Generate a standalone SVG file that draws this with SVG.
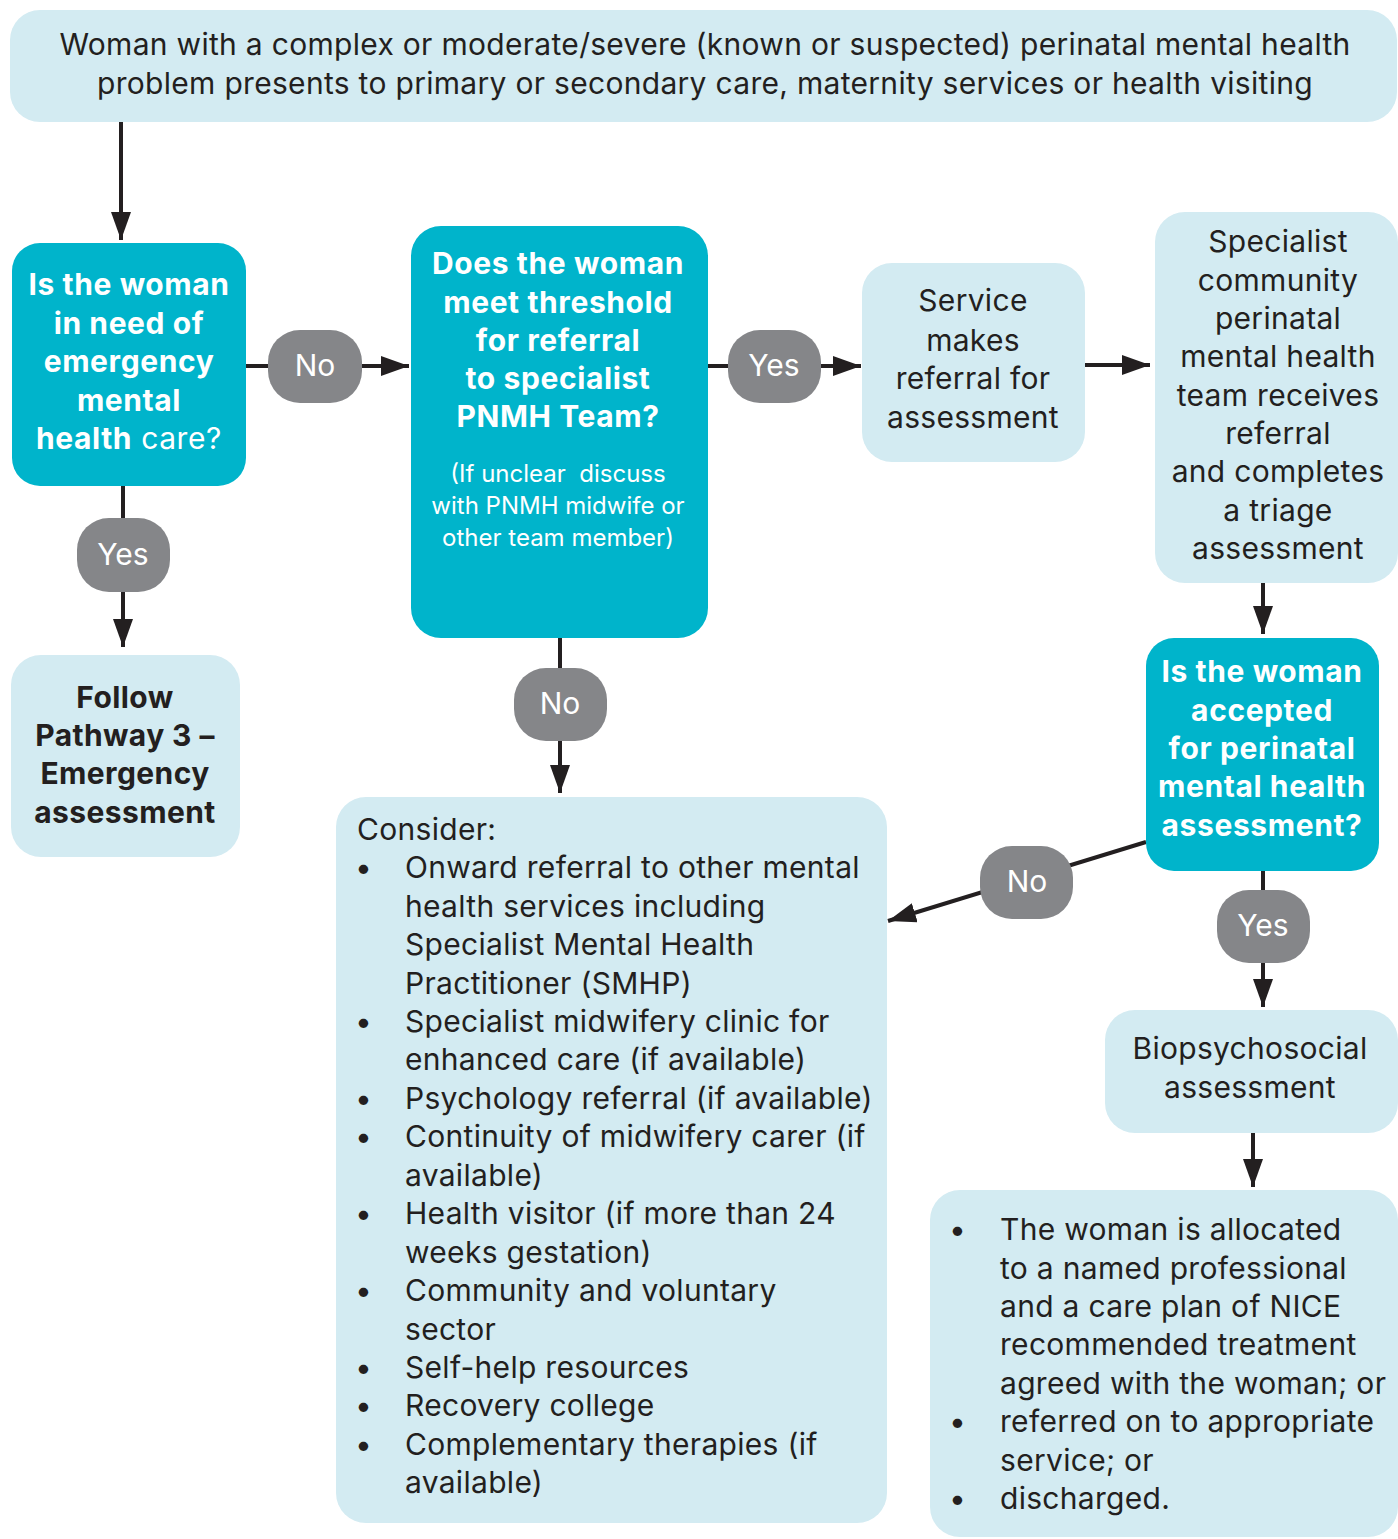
<svg xmlns="http://www.w3.org/2000/svg" width="1398" height="1539" viewBox="0 0 1398 1539">
  <style>
    .box { fill: #d3ebf2; }
    .q { fill: #00b4cb; }
    .pill { fill: #858689; }
    .t { font-family: Inter, "Liberation Sans", Arial, sans-serif; font-size: 30px; letter-spacing: 0.3px; fill: #231f20; }
    .c { text-anchor: middle; }
    .qt { font-family: Inter, "Liberation Sans", Arial, sans-serif; font-size: 30px; font-weight: 700; letter-spacing: 0.6px; fill: #ffffff; text-anchor: middle; }
    .bt { font-family: Inter, "Liberation Sans", Arial, sans-serif; font-size: 30px; font-weight: 700; letter-spacing: 0.4px; fill: #231f20; text-anchor: middle; }
    .sub { font-family: Inter, "Liberation Sans", Arial, sans-serif; font-size: 24px; fill: #ffffff; text-anchor: middle; }
    .pt { font-family: Inter, "Liberation Sans", Arial, sans-serif; font-size: 30px; fill: #ffffff; text-anchor: middle; }
    .edge { stroke: #231f20; stroke-width: 4; fill: none; marker-end: url(#head); }
  </style>
  <defs>
    <marker id="head" markerUnits="userSpaceOnUse" markerWidth="28" markerHeight="20" refX="28" refY="10" orient="auto" viewBox="0 0 28 20">
      <path d="M0,0 L28,10 L0,20 Z" fill="#231f20"/>
    </marker>
  </defs>

  <!-- connectors (drawn first so the Yes/No pills sit on top) -->
  <g id="connectors">
    <line class="edge" x1="121" y1="122" x2="121" y2="240"/>
    <line class="edge" x1="246" y1="366" x2="409" y2="366"/>
    <line class="edge" x1="123" y1="486" x2="123" y2="647"/>
    <line class="edge" x1="708" y1="366" x2="861" y2="366"/>
    <line class="edge" x1="1085" y1="365" x2="1150" y2="365"/>
    <line class="edge" x1="1263" y1="583" x2="1263" y2="634"/>
    <line class="edge" x1="560" y1="638" x2="560" y2="793"/>
    <line class="edge" x1="1146" y1="842" x2="888" y2="921"/>
    <line class="edge" x1="1263" y1="871" x2="1263" y2="1007"/>
    <line class="edge" x1="1253" y1="1133" x2="1253" y2="1187"/>
  </g>

  <!-- Yes / No labels on the connectors -->
  <g id="edge-labels">
    <g id="label-a-no">
      <rect class="pill" x="268" y="330" width="94" height="73" rx="32"/>
      <text class="pt" x="315" y="376">No</text>
    </g>
    <g id="label-a-yes">
      <rect class="pill" x="77" y="518" width="93" height="74" rx="32"/>
      <text class="pt" x="123" y="565">Yes</text>
    </g>
    <g id="label-b-yes">
      <rect class="pill" x="728" y="330" width="93" height="73" rx="32"/>
      <text class="pt" x="774" y="376">Yes</text>
    </g>
    <g id="label-b-no">
      <rect class="pill" x="514" y="668" width="93" height="73" rx="32"/>
      <text class="pt" x="560" y="714">No</text>
    </g>
    <g id="label-c-no">
      <rect class="pill" x="980" y="846" width="93" height="73" rx="32"/>
      <text class="pt" x="1027" y="892">No</text>
    </g>
    <g id="label-c-yes">
      <rect class="pill" x="1217" y="890" width="93" height="73" rx="32"/>
      <text class="pt" x="1263" y="936">Yes</text>
    </g>
  </g>

  <g id="node-start">
    <rect class="box" x="10" y="10" width="1387" height="112" rx="30"/>
    <text class="t c" x="705" y="55">Woman with a complex or moderate/severe (known or suspected) perinatal mental health</text>
    <text class="t c" x="705" y="94">problem presents to primary or secondary care, maternity services or health visiting</text>
  </g>

  <g id="node-emergency-question">
    <rect class="q" x="12" y="243" width="234" height="243" rx="28"/>
    <text class="qt" x="129" y="295">Is the woman</text>
    <text class="qt" x="129" y="334">in need of</text>
    <text class="qt" x="129" y="372">emergency</text>
    <text class="qt" x="129" y="411">mental</text>
    <text class="qt" x="129" y="449">health<tspan font-weight="400"> care?</tspan></text>
  </g>

  <g id="node-pathway3">
    <rect class="box" x="11" y="655" width="229" height="202" rx="30"/>
    <text class="bt" x="125" y="708">Follow</text>
    <text class="bt" x="125" y="746">Pathway 3 –</text>
    <text class="bt" x="125" y="784">Emergency</text>
    <text class="bt" x="125" y="823">assessment</text>
  </g>

  <g id="node-threshold-question">
    <rect class="q" x="411" y="226" width="297" height="412" rx="30"/>
    <text class="qt" x="558" y="274">Does the woman</text>
    <text class="qt" x="558" y="313">meet threshold</text>
    <text class="qt" x="558" y="351">for referral</text>
    <text class="qt" x="558" y="389">to specialist</text>
    <text class="qt" x="558" y="427">PNMH Team?</text>
    <text class="sub" x="558" y="482" xml:space="preserve">(If unclear  discuss</text>
    <text class="sub" x="558" y="514">with PNMH midwife or</text>
    <text class="sub" x="558" y="546">other team member)</text>
  </g>

  <g id="node-service-referral">
    <rect class="box" x="862" y="263" width="223" height="199" rx="30"/>
    <text class="t c" x="973" y="311">Service</text>
    <text class="t c" x="973" y="351">makes</text>
    <text class="t c" x="973" y="389">referral for</text>
    <text class="t c" x="973" y="428">assessment</text>
  </g>

  <g id="node-specialist-team">
    <rect class="box" x="1155" y="212" width="243" height="371" rx="30"/>
    <text class="t c" x="1278" y="252">Specialist</text>
    <text class="t c" x="1278" y="291">community</text>
    <text class="t c" x="1278" y="329">perinatal</text>
    <text class="t c" x="1278" y="367">mental health</text>
    <text class="t c" x="1278" y="406">team receives</text>
    <text class="t c" x="1278" y="444">referral</text>
    <text class="t c" x="1278" y="482">and completes</text>
    <text class="t c" x="1278" y="521">a triage</text>
    <text class="t c" x="1278" y="559">assessment</text>
  </g>

  <g id="node-accepted-question">
    <rect class="q" x="1146" y="638" width="233" height="233" rx="28"/>
    <text class="qt" x="1262" y="682">Is the woman</text>
    <text class="qt" x="1262" y="721">accepted</text>
    <text class="qt" x="1262" y="759">for perinatal</text>
    <text class="qt" x="1262" y="797">mental health</text>
    <text class="qt" x="1262" y="836">assessment?</text>
  </g>

  <g id="node-consider">
    <rect class="box" x="336" y="797" width="551" height="726" rx="30"/>
    <text class="t" x="357" y="840">Consider:</text>
    <g class="t">
      <text x="355" y="878">•</text>
      <text x="355" y="1032">•</text>
      <text x="355" y="1109">•</text>
      <text x="355" y="1147">•</text>
      <text x="355" y="1224">•</text>
      <text x="355" y="1301">•</text>
      <text x="355" y="1378">•</text>
      <text x="355" y="1416">•</text>
      <text x="355" y="1455">•</text>
    </g>
    <text class="t" x="405" y="878">Onward referral to other mental</text>
    <text class="t" x="405" y="917">health services including</text>
    <text class="t" x="405" y="955">Specialist Mental Health</text>
    <text class="t" x="405" y="994">Practitioner (SMHP)</text>
    <text class="t" x="405" y="1032">Specialist midwifery clinic for</text>
    <text class="t" x="405" y="1070">enhanced care (if available)</text>
    <text class="t" x="405" y="1109">Psychology referral (if available)</text>
    <text class="t" x="405" y="1147">Continuity of midwifery carer (if</text>
    <text class="t" x="405" y="1186">available)</text>
    <text class="t" x="405" y="1224">Health visitor (if more than 24</text>
    <text class="t" x="405" y="1263">weeks gestation)</text>
    <text class="t" x="405" y="1301">Community and voluntary</text>
    <text class="t" x="405" y="1340">sector</text>
    <text class="t" x="405" y="1378">Self-help resources</text>
    <text class="t" x="405" y="1416">Recovery college</text>
    <text class="t" x="405" y="1455">Complementary therapies (if</text>
    <text class="t" x="405" y="1493">available)</text>
  </g>

  <g id="node-biopsychosocial">
    <rect class="box" x="1105" y="1010" width="293" height="123" rx="30"/>
    <text class="t c" x="1250" y="1059">Biopsychosocial</text>
    <text class="t c" x="1250" y="1098">assessment</text>
  </g>

  <g id="node-outcome">
    <rect class="box" x="930" y="1190" width="468" height="347" rx="30"/>
    <g class="t">
      <text x="949" y="1240">•</text>
      <text x="949" y="1432">•</text>
      <text x="949" y="1509">•</text>
    </g>
    <text class="t" x="1000" y="1240">The woman is allocated</text>
    <text class="t" x="1000" y="1279">to a named professional</text>
    <text class="t" x="1000" y="1317">and a care plan of NICE</text>
    <text class="t" x="1000" y="1355">recommended treatment</text>
    <text class="t" x="1000" y="1394">agreed with the woman; or</text>
    <text class="t" x="1000" y="1432">referred on to appropriate</text>
    <text class="t" x="1000" y="1471">service; or</text>
    <text class="t" x="1000" y="1509">discharged.</text>
  </g>
</svg>
